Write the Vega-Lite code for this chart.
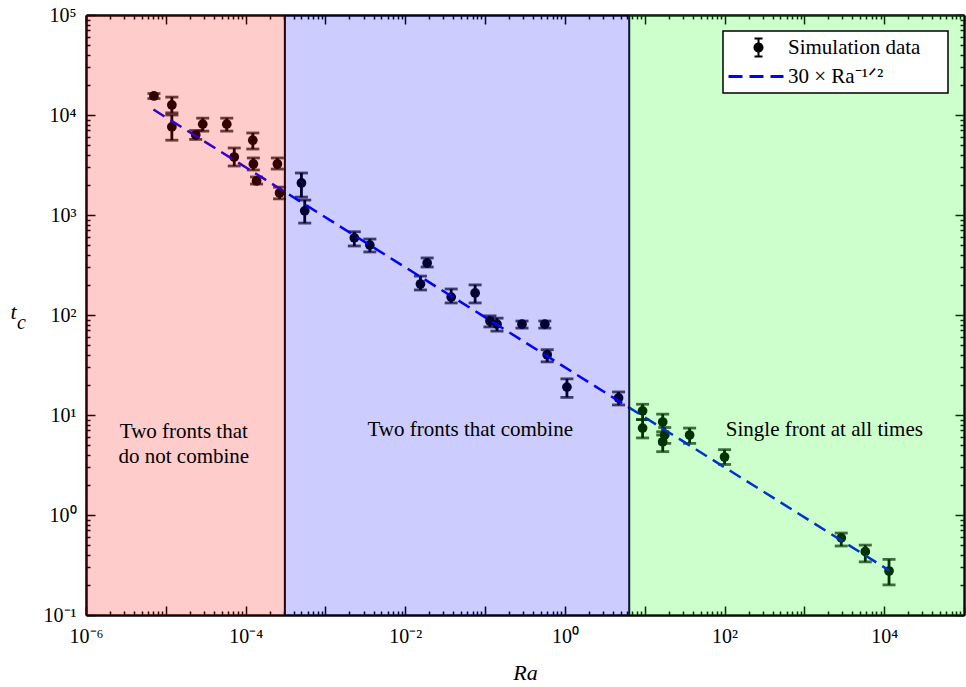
{
  "$schema": "https://vega.github.io/schema/vega-lite/v6.json",
  "width": 878,
  "height": 600,
  "autosize": {"type": "none"},
  "padding": {"left": 86, "top": 15, "right": 2, "bottom": 72},
  "background": "white",
  "config": {
    "view": {"stroke": null},
    "font": "Liberation Serif",
    "axis": {"grid": false, "domainColor": "black", "domainWidth": 2.5, "tickColor": "black", "tickWidth": 1.5, "labelFont": "Liberation Serif", "labelFontSize": 20, "labelColor": "black", "titleFont": "Liberation Serif", "titleColor": "black", "labelOverlap": false, "labelFlush": false, "labelBound": false},
    "legend": {"strokeWidth": 1.5}
  },
  "datasets": {
    "pts": [
      {"Ra": 7.1e-6, "tc": 15500, "lo": 14600, "hi": 16400},
      {"Ra": 1.19e-5, "tc": 12600, "lo": 10500, "hi": 15100},
      {"Ra": 1.19e-5, "tc": 7600, "lo": 5600, "hi": 10000},
      {"Ra": 2.37e-5, "tc": 6300, "lo": 5700, "hi": 7000},
      {"Ra": 2.9e-5, "tc": 8100, "lo": 6900, "hi": 9300},
      {"Ra": 5.8e-5, "tc": 8100, "lo": 6900, "hi": 9300},
      {"Ra": 7.2e-5, "tc": 3800, "lo": 3090, "hi": 4680},
      {"Ra": 1.23e-4, "tc": 5600, "lo": 4570, "hi": 6610},
      {"Ra": 1.25e-4, "tc": 3240, "lo": 2820, "hi": 3720},
      {"Ra": 1.37e-4, "tc": 2190, "lo": 2040, "hi": 2400},
      {"Ra": 2.5e-4, "tc": 3240, "lo": 2880, "hi": 3720},
      {"Ra": 2.66e-4, "tc": 1660, "lo": 1450, "hi": 1900},
      {"Ra": 5.0e-4, "tc": 2090, "lo": 1510, "hi": 2630},
      {"Ra": 5.5e-4, "tc": 1100, "lo": 830, "hi": 1410},
      {"Ra": 2.3e-3, "tc": 590, "lo": 490, "hi": 680},
      {"Ra": 3.6e-3, "tc": 500, "lo": 427, "hi": 575},
      {"Ra": 0.0188, "tc": 331, "lo": 302, "hi": 372},
      {"Ra": 0.0155, "tc": 204, "lo": 178, "hi": 245},
      {"Ra": 0.0376, "tc": 151, "lo": 132, "hi": 182},
      {"Ra": 0.075, "tc": 166, "lo": 132, "hi": 200},
      {"Ra": 0.115, "tc": 87, "lo": 76, "hi": 98},
      {"Ra": 0.141, "tc": 81, "lo": 69, "hi": 93},
      {"Ra": 0.29, "tc": 81, "lo": 74, "hi": 87},
      {"Ra": 0.56, "tc": 81, "lo": 74, "hi": 87},
      {"Ra": 0.6, "tc": 40, "lo": 34, "hi": 45},
      {"Ra": 1.06, "tc": 19, "lo": 15, "hi": 23},
      {"Ra": 4.7, "tc": 14.8, "lo": 12.6, "hi": 17},
      {"Ra": 9.4, "tc": 11, "lo": 9, "hi": 12.8},
      {"Ra": 9.4, "tc": 7.4, "lo": 5.9, "hi": 9},
      {"Ra": 16.8, "tc": 8.5, "lo": 6.8, "hi": 10.2},
      {"Ra": 17.8, "tc": 6.3, "lo": 5.2, "hi": 7.5},
      {"Ra": 16.8, "tc": 5.4, "lo": 4.3, "hi": 6.3},
      {"Ra": 36.5, "tc": 6.3, "lo": 5.2, "hi": 7.4},
      {"Ra": 100, "tc": 3.8, "lo": 3.2, "hi": 4.5},
      {"Ra": 2900, "tc": 0.59, "lo": 0.49, "hi": 0.66},
      {"Ra": 5800, "tc": 0.43, "lo": 0.34, "hi": 0.5},
      {"Ra": 11500, "tc": 0.275, "lo": 0.2, "hi": 0.36}
    ],
    "fit": [
      {"Ra": 7e-6, "fit": 11339},
      {"Ra": 11500, "fit": 0.2797}
    ],
    "regions": [
      {"region": "Two fronts that do not combine", "x1": 1e-6, "x2": 3.1e-4},
      {"region": "Two fronts that combine", "x1": 3.1e-4, "x2": 6.4},
      {"region": "Single front at all times", "x1": 6.4, "x2": 1e5}
    ],
    "labels": [
      {"label": "Two fronts that\ndo not combine", "tx": 1.68e-5, "ty": 6.8},
      {"label": "Two fronts that combine", "tx": 0.065, "ty": 7.1},
      {"label": "Single front at all times", "tx": 1780, "ty": 7.1}
    ],
    "legendRows": [
      {"series": "Simulation data"},
      {"series": "30 × Ra⁻¹ᐟ²"}
    ]
  },
  "resolve": {"axis": {"x": "independent", "y": "independent"}},
  "layer": [
    {
      "data": {"name": "pts"},
      "mark": {"type": "errorbar", "color": "black", "ticks": true, "size": 13, "thickness": 2.8},
      "encoding": {
        "x": {"field": "Ra", "type": "quantitative", "scale": {"type": "log", "domain": [1e-6, 1e5], "nice": false}, "axis": null},
        "y": {"field": "lo", "type": "quantitative", "scale": {"type": "log", "domain": [0.1, 1e5], "nice": false}, "axis": null},
        "y2": {"field": "hi"}
      }
    },
    {
      "data": {"name": "pts"},
      "mark": {"type": "point", "filled": true, "size": 95, "color": "black", "opacity": 1},
      "encoding": {
        "x": {"field": "Ra", "type": "quantitative", "scale": {"type": "log", "domain": [1e-6, 1e5], "nice": false},
          "axis": {"orient": "bottom", "title": "Ra", "titleFontStyle": "italic", "titleFontWeight": "normal", "titleFontSize": 22, "titleY": 64, "titleBaseline": "alphabetic",
            "values": [1e-6,2e-6,3e-6,4e-6,5e-6,6e-6,7e-6,8e-6,9e-6,1e-5,2e-5,3e-5,4e-5,5e-5,6e-5,7e-5,8e-5,9e-5,1e-4,2e-4,3e-4,4e-4,5e-4,6e-4,7e-4,8e-4,9e-4,1e-3,2e-3,3e-3,4e-3,5e-3,6e-3,7e-3,8e-3,9e-3,0.01,0.02,0.03,0.04,0.05,0.06,0.07,0.08,0.09,0.1,0.2,0.3,0.4,0.5,0.6,0.7,0.8,0.9,1,2,3,4,5,6,7,8,9,10,20,30,40,50,60,70,80,90,100,200,300,400,500,600,700,800,900,1000,2000,3000,4000,5000,6000,7000,8000,9000,10000,20000,30000,40000,50000,60000,70000,80000,90000,100000],
            "tickSize": {"condition": {"test": "abs(log(datum.value)/LN10 - round(log(datum.value)/LN10)) < 0.0001", "value": -9}, "value": -4},
            "labelBaseline": "alphabetic", "labelPadding": 36,
            "labelExpr": "abs(log(datum.value)/LN10 - round(log(datum.value)/LN10)) < 0.0001 && (round(log(datum.value)/LN10) % 2 == 0) ? '10' + ['⁻⁶','⁻⁵','⁻⁴','⁻³','⁻²','⁻¹','⁰','¹','²','³','⁴','⁵'][round(log(datum.value)/LN10)+6] : ''"}},
        "y": {"field": "tc", "type": "quantitative", "scale": {"type": "log", "domain": [0.1, 1e5], "nice": false},
          "axis": {"orient": "left", "title": "t", "titleFontStyle": "italic", "titleFontWeight": "normal", "titleFontSize": 22, "titleAngle": 0, "titleAlign": "center", "titleBaseline": "alphabetic", "titleX": -73, "titleY": 303,
            "values": [0.1,0.2,0.3,0.4,0.5,0.6,0.7,0.8,0.9,1,2,3,4,5,6,7,8,9,10,20,30,40,50,60,70,80,90,100,200,300,400,500,600,700,800,900,1000,2000,3000,4000,5000,6000,7000,8000,9000,10000,20000,30000,40000,50000,60000,70000,80000,90000,100000],
            "tickSize": {"condition": {"test": "abs(log(datum.value)/LN10 - round(log(datum.value)/LN10)) < 0.0001", "value": -9}, "value": -4},
            "labelPadding": 19,
            "labelExpr": "abs(log(datum.value)/LN10 - round(log(datum.value)/LN10)) < 0.0001 ? '10' + ['⁻⁶','⁻⁵','⁻⁴','⁻³','⁻²','⁻¹','⁰','¹','²','³','⁴','⁵'][round(log(datum.value)/LN10)+6] : ''"}}
      }
    },
    {
      "data": {"name": "fit"},
      "mark": {"type": "line", "color": "#0000ff", "strokeWidth": 2.5, "strokeDash": [13, 7]},
      "encoding": {
        "x": {"field": "Ra", "type": "quantitative", "scale": {"type": "log", "domain": [1e-6, 1e5], "nice": false},
          "axis": {"orient": "top", "title": null, "labels": false,
            "values": [1e-6,2e-6,3e-6,4e-6,5e-6,6e-6,7e-6,8e-6,9e-6,1e-5,2e-5,3e-5,4e-5,5e-5,6e-5,7e-5,8e-5,9e-5,1e-4,2e-4,3e-4,4e-4,5e-4,6e-4,7e-4,8e-4,9e-4,1e-3,2e-3,3e-3,4e-3,5e-3,6e-3,7e-3,8e-3,9e-3,0.01,0.02,0.03,0.04,0.05,0.06,0.07,0.08,0.09,0.1,0.2,0.3,0.4,0.5,0.6,0.7,0.8,0.9,1,2,3,4,5,6,7,8,9,10,20,30,40,50,60,70,80,90,100,200,300,400,500,600,700,800,900,1000,2000,3000,4000,5000,6000,7000,8000,9000,10000,20000,30000,40000,50000,60000,70000,80000,90000,100000],
            "tickSize": {"condition": {"test": "abs(log(datum.value)/LN10 - round(log(datum.value)/LN10)) < 0.0001", "value": -9}, "value": -4}}},
        "y": {"field": "fit", "type": "quantitative", "scale": {"type": "log", "domain": [0.1, 1e5], "nice": false},
          "axis": {"orient": "right", "title": null, "labels": false,
            "values": [0.1,0.2,0.3,0.4,0.5,0.6,0.7,0.8,0.9,1,2,3,4,5,6,7,8,9,10,20,30,40,50,60,70,80,90,100,200,300,400,500,600,700,800,900,1000,2000,3000,4000,5000,6000,7000,8000,9000,10000,20000,30000,40000,50000,60000,70000,80000,90000,100000],
            "tickSize": {"condition": {"test": "abs(log(datum.value)/LN10 - round(log(datum.value)/LN10)) < 0.0001", "value": -9}, "value": -4}}}
      }
    },
    {
      "data": {"name": "regions"},
      "transform": [{"filter": "datum.x2 < 1e5"}],
      "mark": {"type": "rule", "color": "black", "strokeWidth": 2},
      "encoding": {
        "x": {"field": "x2", "type": "quantitative", "scale": {"type": "log", "domain": [1e-6, 1e5], "nice": false}, "axis": null}
      }
    },
    {
      "data": {"name": "regions"},
      "mark": {"type": "rect", "fillOpacity": 0.2, "strokeWidth": 0},
      "encoding": {
        "x": {"field": "x1", "type": "quantitative", "scale": {"type": "log", "domain": [1e-6, 1e5], "nice": false}, "axis": null},
        "x2": {"field": "x2"},
        "fill": {"field": "region", "type": "nominal", "scale": {"domain": ["Two fronts that do not combine", "Two fronts that combine", "Single front at all times"], "range": ["#ff0000", "#0000ff", "#00ff00"]}, "legend": null}
      }
    },
    {
      "data": {"name": "labels"},
      "mark": {"type": "text", "font": "Liberation Serif", "fontSize": 21, "color": "black", "align": "center", "baseline": "middle", "lineBreak": "\n", "lineHeight": 25},
      "encoding": {
        "x": {"field": "tx", "type": "quantitative", "scale": {"type": "log", "domain": [1e-6, 1e5], "nice": false}, "axis": null},
        "y": {"field": "ty", "type": "quantitative", "scale": {"type": "log", "domain": [0.1, 1e5], "nice": false},
          "axis": {"orient": "left", "title": "c", "labels": false, "ticks": false, "domain": false, "titleFontStyle": "italic", "titleFontWeight": "normal", "titleFontSize": 20, "titleAngle": 0, "titleAlign": "center", "titleBaseline": "alphabetic", "titleX": -65, "titleY": 313}},
        "text": {"field": "label"}
      }
    },
    {
      "data": {"name": "legendRows"},
      "mark": {"type": "point", "filled": true, "opacity": 1},
      "encoding": {
        "x": {"field": "Ra", "type": "quantitative", "scale": {"type": "log", "domain": [1e-6, 1e5], "nice": false}, "axis": null},
        "y": {"field": "tc", "type": "quantitative", "scale": {"type": "log", "domain": [0.1, 1e5], "nice": false}, "axis": null},
        "color": {"field": "series", "type": "nominal", "scale": {"domain": ["Simulation data", "30 × Ra⁻¹ᐟ²"], "range": ["black", "#0000ff"]},
          "legend": {"title": "\u200b", "titleOrient": "right", "titlePadding": 22, "titleFontSize": 10, "orient": "none", "legendX": 637, "legendY": 16, "fillColor": "white", "strokeColor": "black", "padding": 6, "cornerRadius": 0, "labelFont": "Liberation Serif", "labelFontSize": 21, "labelColor": "black", "labelLimit": 0, "labelOffset": 38, "rowPadding": 7, "symbolSize": 400, "symbolStrokeWidth": 0}},
        "shape": {"field": "series", "type": "nominal", "scale": {"domain": ["Simulation data", "30 × Ra⁻¹ᐟ²"], "range": ["M1.8,-0.9H2.0V0.9H1.8ZM1.5,-1.0H2.3V-0.8H1.5ZM1.5,0.8H2.3V1.0H1.5ZM2.4,0A0.5,0.5,0,1,1,1.4,0A0.5,0.5,0,1,1,2.4,0Z", "M-1.1,-0.15H0.3V0.15H-1.1ZM1.0,-0.15H2.4V0.15H1.0ZM3.1,-0.15H4.4V0.15H3.1Z"]},
          "legend": {"title": "\u200b", "titleOrient": "right", "titlePadding": 22, "titleFontSize": 10, "orient": "none", "legendX": 637, "legendY": 16, "fillColor": "white", "strokeColor": "black", "padding": 6, "cornerRadius": 0, "labelFont": "Liberation Serif", "labelFontSize": 21, "labelColor": "black", "labelLimit": 0, "labelOffset": 38, "rowPadding": 7, "symbolSize": 400, "symbolStrokeWidth": 0}}
      }
    }
  ]
}
